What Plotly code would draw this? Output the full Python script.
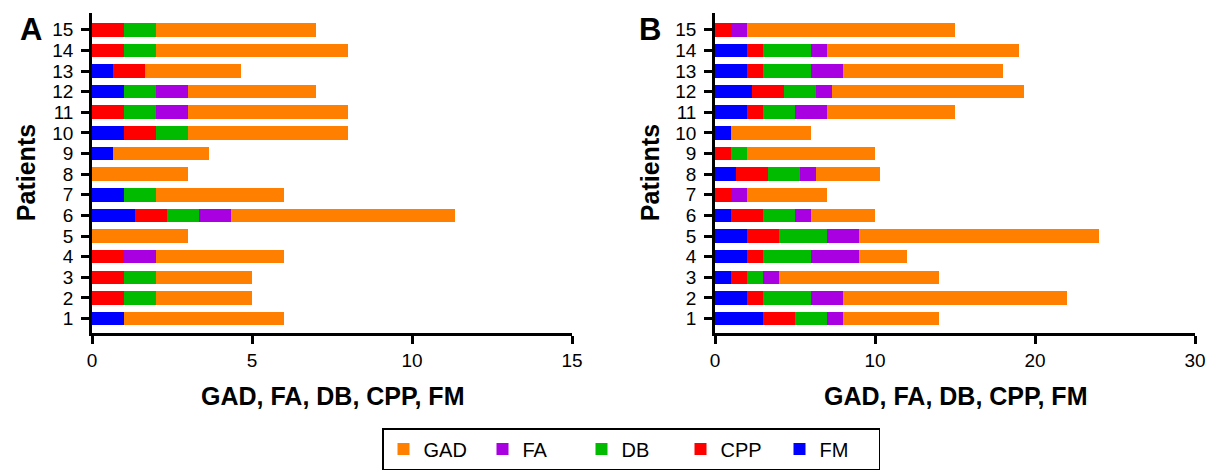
import plotly.graph_objects as go

patients = list(range(1, 16))

# Panel A values (patients 1..15)
a_fm  = [1, 0, 0, 0, 0, 1.33, 1, 0, 0.67, 1, 0, 1, 0.67, 0, 0]
a_cpp = [0, 1, 1, 1, 0, 1, 0, 0, 0, 1, 1, 0, 1, 1, 1]
a_db  = [0, 1, 1, 0, 0, 1, 1, 0, 0, 1, 1, 1, 0, 1, 1]
a_fa  = [0, 0, 0, 1, 0, 1, 0, 0, 0, 0, 1, 1, 0, 0, 0]
a_gad = [5, 3, 3, 4, 3, 7, 4, 3, 3, 5, 5, 4, 3, 6, 5]

# Panel B values (patients 1..15)
b_fm  = [3, 2, 1, 2, 2, 1, 0, 1.33, 0, 1, 2, 2.33, 2, 2, 0]
b_cpp = [2, 1, 1, 1, 2, 2, 1, 2, 1, 0, 1, 2, 1, 1, 1]
b_db  = [2, 3, 1, 3, 3, 2, 0, 2, 1, 0, 2, 2, 3, 3, 0]
b_fa  = [1, 2, 1, 3, 2, 1, 1, 1, 0, 0, 2, 1, 2, 1, 1]
b_gad = [6, 14, 10, 3, 15, 4, 5, 4, 8, 5, 8, 12, 10, 12, 13]

series_names = ["FM", "CPP", "DB", "FA", "GAD"]
colors = {"FM": "#0000FF", "CPP": "#FF0000", "DB": "#00BB00", "FA": "#A800E0", "GAD": "#FF8000"}
a_data = {"FM": a_fm, "CPP": a_cpp, "DB": a_db, "FA": a_fa, "GAD": a_gad}
b_data = {"FM": b_fm, "CPP": b_cpp, "DB": b_db, "FA": b_fa, "GAD": b_gad}

xticks_a = [0, 5, 10, 15]
xticks_b = [0, 10, 20, 30]

FONT = "Liberation Sans, Arial, sans-serif"
W, H = 1215, 470

fig = go.Figure()
for name in series_names:
    fig.add_trace(go.Bar(y=patients, x=a_data[name], orientation="h", name=name,
                         marker=dict(color=colors[name], line=dict(width=0)),
                         width=0.66, xaxis="x", yaxis="y", showlegend=True, legendgroup=name))
for name in series_names:
    fig.add_trace(go.Bar(y=patients, x=b_data[name], orientation="h", name=name,
                         marker=dict(color=colors[name], line=dict(width=0)),
                         width=0.66, xaxis="x2", yaxis="y2", showlegend=False, legendgroup=name))

ytop = 1 - 13 / H
ybot = 1 - 337 / H

axis_common = dict(showline=True, linecolor="black", linewidth=2.5, ticks="outside",
                   ticklen=8, tickwidth=2.5, tickcolor="black", showgrid=False, zeroline=False,
                   automargin=False,
                   tickfont=dict(family=FONT, size=19, color="black"))
yaxis_extra = dict(ticklabelstandoff=4)

fig.update_layout(
    template="none",
    width=W, height=H, autosize=False,
    margin=dict(l=0, r=0, t=0, b=0, pad=0),
    paper_bgcolor="white", plot_bgcolor="white",
    barmode="stack", bargap=0.34,
    xaxis=dict(domain=[92 / W, 572 / W], range=[0, 15], tickvals=xticks_a, anchor="y", **axis_common),
    yaxis=dict(domain=[ybot, ytop], range=[0.28, 15.82], tickvals=patients, anchor="x",
               **axis_common, **yaxis_extra),
    xaxis2=dict(domain=[715 / W, 1195 / W], range=[0, 30], tickvals=xticks_b, anchor="y2", **axis_common),
    yaxis2=dict(domain=[ybot, ytop], range=[0.28, 15.82], tickvals=patients, anchor="x2",
                **axis_common, **yaxis_extra),
    legend=dict(orientation="h", x=631 / W, xanchor="center", y=1 - 433 / H, yanchor="top",
                traceorder="reversed", bordercolor="black", borderwidth=1.5,
                font=dict(family=FONT, size=20, color="black"), entrywidth=54,
                entrywidthmode="pixels", bgcolor="white"),
    font=dict(family=FONT, color="black"),
)

annots = [
    dict(text="<b>A</b>", x=18 / W, y=1 - 30 / H, font_size=31),
    dict(text="<b>B</b>", x=637 / W, y=1 - 30 / H, font_size=31),
    dict(text="<b>GAD, FA, DB, CPP, FM</b>", x=332 / W, y=1 - 400 / H, font_size=25, xanchor="center"),
    dict(text="<b>GAD, FA, DB, CPP, FM</b>", x=955 / W, y=1 - 400 / H, font_size=25, xanchor="center"),
    dict(text="<b>Patients</b>", x=26 / W, y=1 - 175 / H, font_size=25, textangle=-90, xanchor="center"),
    dict(text="<b>Patients</b>", x=650 / W, y=1 - 175 / H, font_size=25, textangle=-90, xanchor="center"),
]
for a in annots:
    fig.add_annotation(xref="paper", yref="paper", showarrow=False,
                       xanchor=a.get("xanchor", "left"), yanchor="middle",
                       x=a["x"], y=a["y"], text=a["text"], textangle=a.get("textangle", 0),
                       font=dict(family=FONT, size=a["font_size"], color="black"))

fig.write_html("out.html", config={"displayModeBar": False},
               post_script="document.body.style.margin='0px';document.body.style.overflow='hidden';")
